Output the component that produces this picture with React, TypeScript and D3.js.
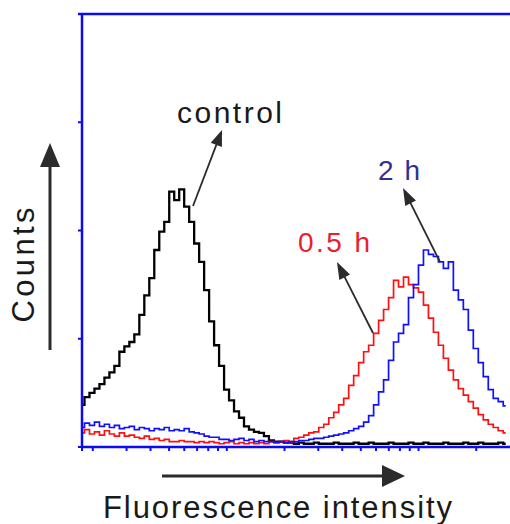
import React from "react";
import * as d3 from "d3";

// Histogram channels (log-spaced fluorescence bins)
const CHANNELS = 86;
const LOG_STEP = 0.026;
const FIRST_BIN = 1.757;
const bins = d3.range(CHANNELS).map((i) => FIRST_BIN * Math.pow(10, i * LOG_STEP));

const controlCounts = [
  39, 46, 50, 54, 58, 64, 69, 75, 88, 93, 97, 104, 122, 140, 156, 182, 199, 208, 236, 228,
  238, 222, 208, 188, 171, 145, 116, 94, 75, 53, 43, 33, 27, 19, 16, 14, 13, 10, 6, 5,
  5, 4, 4, 3, 4, 3, 3, 4, 3, 3, 3, 4, 3, 3, 3, 4, 3, 3, 4, 3,
  3, 3, 4, 3, 3, 3, 4, 3, 3, 4, 3, 3, 3, 4, 3, 3, 3, 4, 3, 3,
  4, 3, 3, 3, 4, 3,
];
const redCounts = [
  13, 16, 12, 14, 11, 15, 12, 10, 13, 10, 11, 9, 8, 10, 7, 8, 6, 7, 5, 5,
  6, 5, 5, 4, 5, 4, 5, 4, 3, 4, 5, 3, 4, 3, 4, 3, 4, 3, 5, 4,
  5, 6, 5, 8, 9, 11, 13, 14, 18, 21, 27, 32, 39, 45, 57, 66, 78, 88, 94, 105,
  117, 127, 138, 154, 148, 157, 150, 147, 143, 131, 119, 106, 94, 82, 71, 62, 54, 48, 42, 36,
  30, 25, 21, 18, 15, 13,
];
const blueCounts = [
  18, 22, 20, 23, 19, 21, 18, 20, 17, 18, 19, 16, 18, 17, 15, 17, 16, 18, 15, 16,
  15, 17, 14, 13, 12, 10, 9, 9, 7, 7, 6, 7, 8, 6, 7, 5, 6, 5, 5, 4,
  5, 4, 5, 5, 6, 6, 7, 8, 8, 9, 10, 11, 12, 13, 15, 17, 19, 23, 29, 39,
  51, 62, 80, 97, 105, 113, 138, 150, 168, 182, 178, 176, 171, 165, 171, 145, 136, 127, 108, 91,
  78, 65, 53, 45, 42, 38,
];

const xDomain = [1.757, 300];
const yDomain = [0, 400];
const yTicks = [0, 100, 200, 300, 400];
const xTicks = [2, 3, 4, 5, 6, 7, 8, 9, 10, 20, 30, 40, 50, 60, 70, 80, 90, 100, 200];

const W = 510;
const H = 524;
const M = { left: 82, right: 510, top: 14, bottom: 447 };

const AXIS_COLOR = "#0b0bee";
const ARROW_COLOR = "#2b2b2b";

function arrow(x1: number, y1: number, x2: number, y2: number, L: number, hw: number) {
  const dx = x2 - x1;
  const dy = y2 - y1;
  const len = Math.hypot(dx, dy);
  const ux = dx / len;
  const uy = dy / len;
  const bx = x2 - ux * L;
  const by = y2 - uy * L;
  const nx = -uy;
  const ny = ux;
  return {
    line: { x1, y1, x2: bx + ux * 2, y2: by + uy * 2 },
    head: `M${x2},${y2}L${bx + nx * hw},${by + ny * hw}L${bx - nx * hw},${by - ny * hw}Z`,
  };
}

function Arrow({ a, width }: { a: ReturnType<typeof arrow>; width: number }) {
  return (
    <g>
      <line {...a.line} stroke={ARROW_COLOR} strokeWidth={width} />
      <path d={a.head} fill={ARROW_COLOR} />
    </g>
  );
}

export default function App() {
  const x = d3.scaleLog().domain(xDomain).range([M.left, M.right]);
  const y = d3.scaleLinear().domain(yDomain).range([M.bottom, M.top]);

  const line = d3
    .line<number>()
    .x((_, i) => x(bins[i]))
    .y((d) => y(d))
    .curve(d3.curveStep);

  const series = [
    { data: controlCounts, color: "#000000", width: 2.3 },
    { data: redCounts, color: "#ff1010", width: 1.7 },
    { data: blueCounts, color: "#1010ff", width: 1.7 },
  ];

  const yArrow = arrow(50, 350, 50, 143, 24, 10);
  const xArrow = arrow(162, 476, 405, 476, 23, 11);
  const cArrow = arrow(193, 206, 222, 130, 16, 6);
  const rArrow = arrow(373, 333, 337, 262, 17, 6);
  const bArrow = arrow(440, 262, 403, 188, 17, 6);

  const font = "'Liberation Sans', Arial, Helvetica, sans-serif";

  return (
    <svg
      width={W}
      height={H}
      style={{ position: "absolute", left: 0, top: 0, background: "#fff" }}
      fontFamily={font}
    >
      <rect x={0} y={0} width={W} height={H} fill="#fff" />
      <defs>
        <clipPath id="plotClip">
          <rect x={M.left} y={M.top} width={M.right - M.left} height={M.bottom - M.top} />
        </clipPath>
      </defs>

      <g clipPath="url(#plotClip)">
        {series.map((s, k) => (
          <path
            key={k}
            d={line(s.data) || ""}
            fill="none"
            stroke={s.color}
            strokeWidth={s.width}
            strokeLinejoin="miter"
          />
        ))}
      </g>

      {/* frame */}
      <line x1={M.left - 4} x2={W} y1={M.top} y2={M.top} stroke={AXIS_COLOR} strokeWidth={2.5} />
      <line x1={M.left} x2={M.left} y1={M.top} y2={M.bottom} stroke={AXIS_COLOR} strokeWidth={2.5} />
      <line x1={M.left} x2={W} y1={M.bottom} y2={M.bottom} stroke={AXIS_COLOR} strokeWidth={2.5} />

      {/* y ticks */}
      {yTicks.map((t) => (
        <line key={t} x1={M.left - 4} x2={M.left} y1={y(t)} y2={y(t)} stroke={AXIS_COLOR} strokeWidth={2} />
      ))}
      {/* x ticks */}
      {[xDomain[0], ...xTicks].map((t) => (
        <line key={t} x1={x(t)} x2={x(t)} y1={M.bottom} y2={M.bottom + 4} stroke={AXIS_COLOR} strokeWidth={2} />
      ))}

      {/* annotations */}
      <Arrow a={cArrow} width={1.8} />
      <Arrow a={rArrow} width={1.8} />
      <Arrow a={bArrow} width={1.8} />
      <Arrow a={yArrow} width={3} />
      <Arrow a={xArrow} width={3} />

      <text x={177} y={123} fontSize={30} fill="#1a1a1a" textLength={105} lengthAdjust="spacing">
        control
      </text>
      <text x={298} y={252} fontSize={28} fill="#e8202a" textLength={72} lengthAdjust="spacing">
        0.5 h
      </text>
      <text x={378} y={180} fontSize={28} fill="#2e3192" textLength={42} lengthAdjust="spacing">
        2 h
      </text>
      <text
        transform="translate(34,265) rotate(-90)"
        textAnchor="middle"
        fontSize={31}
        fill="#1a1a1a"
        textLength={115}
        lengthAdjust="spacing"
      >
        Counts
      </text>
      <text x={103} y={518} fontSize={31} fill="#1a1a1a" textLength={349} lengthAdjust="spacing">
        Fluorescence intensity
      </text>
    </svg>
  );
}
